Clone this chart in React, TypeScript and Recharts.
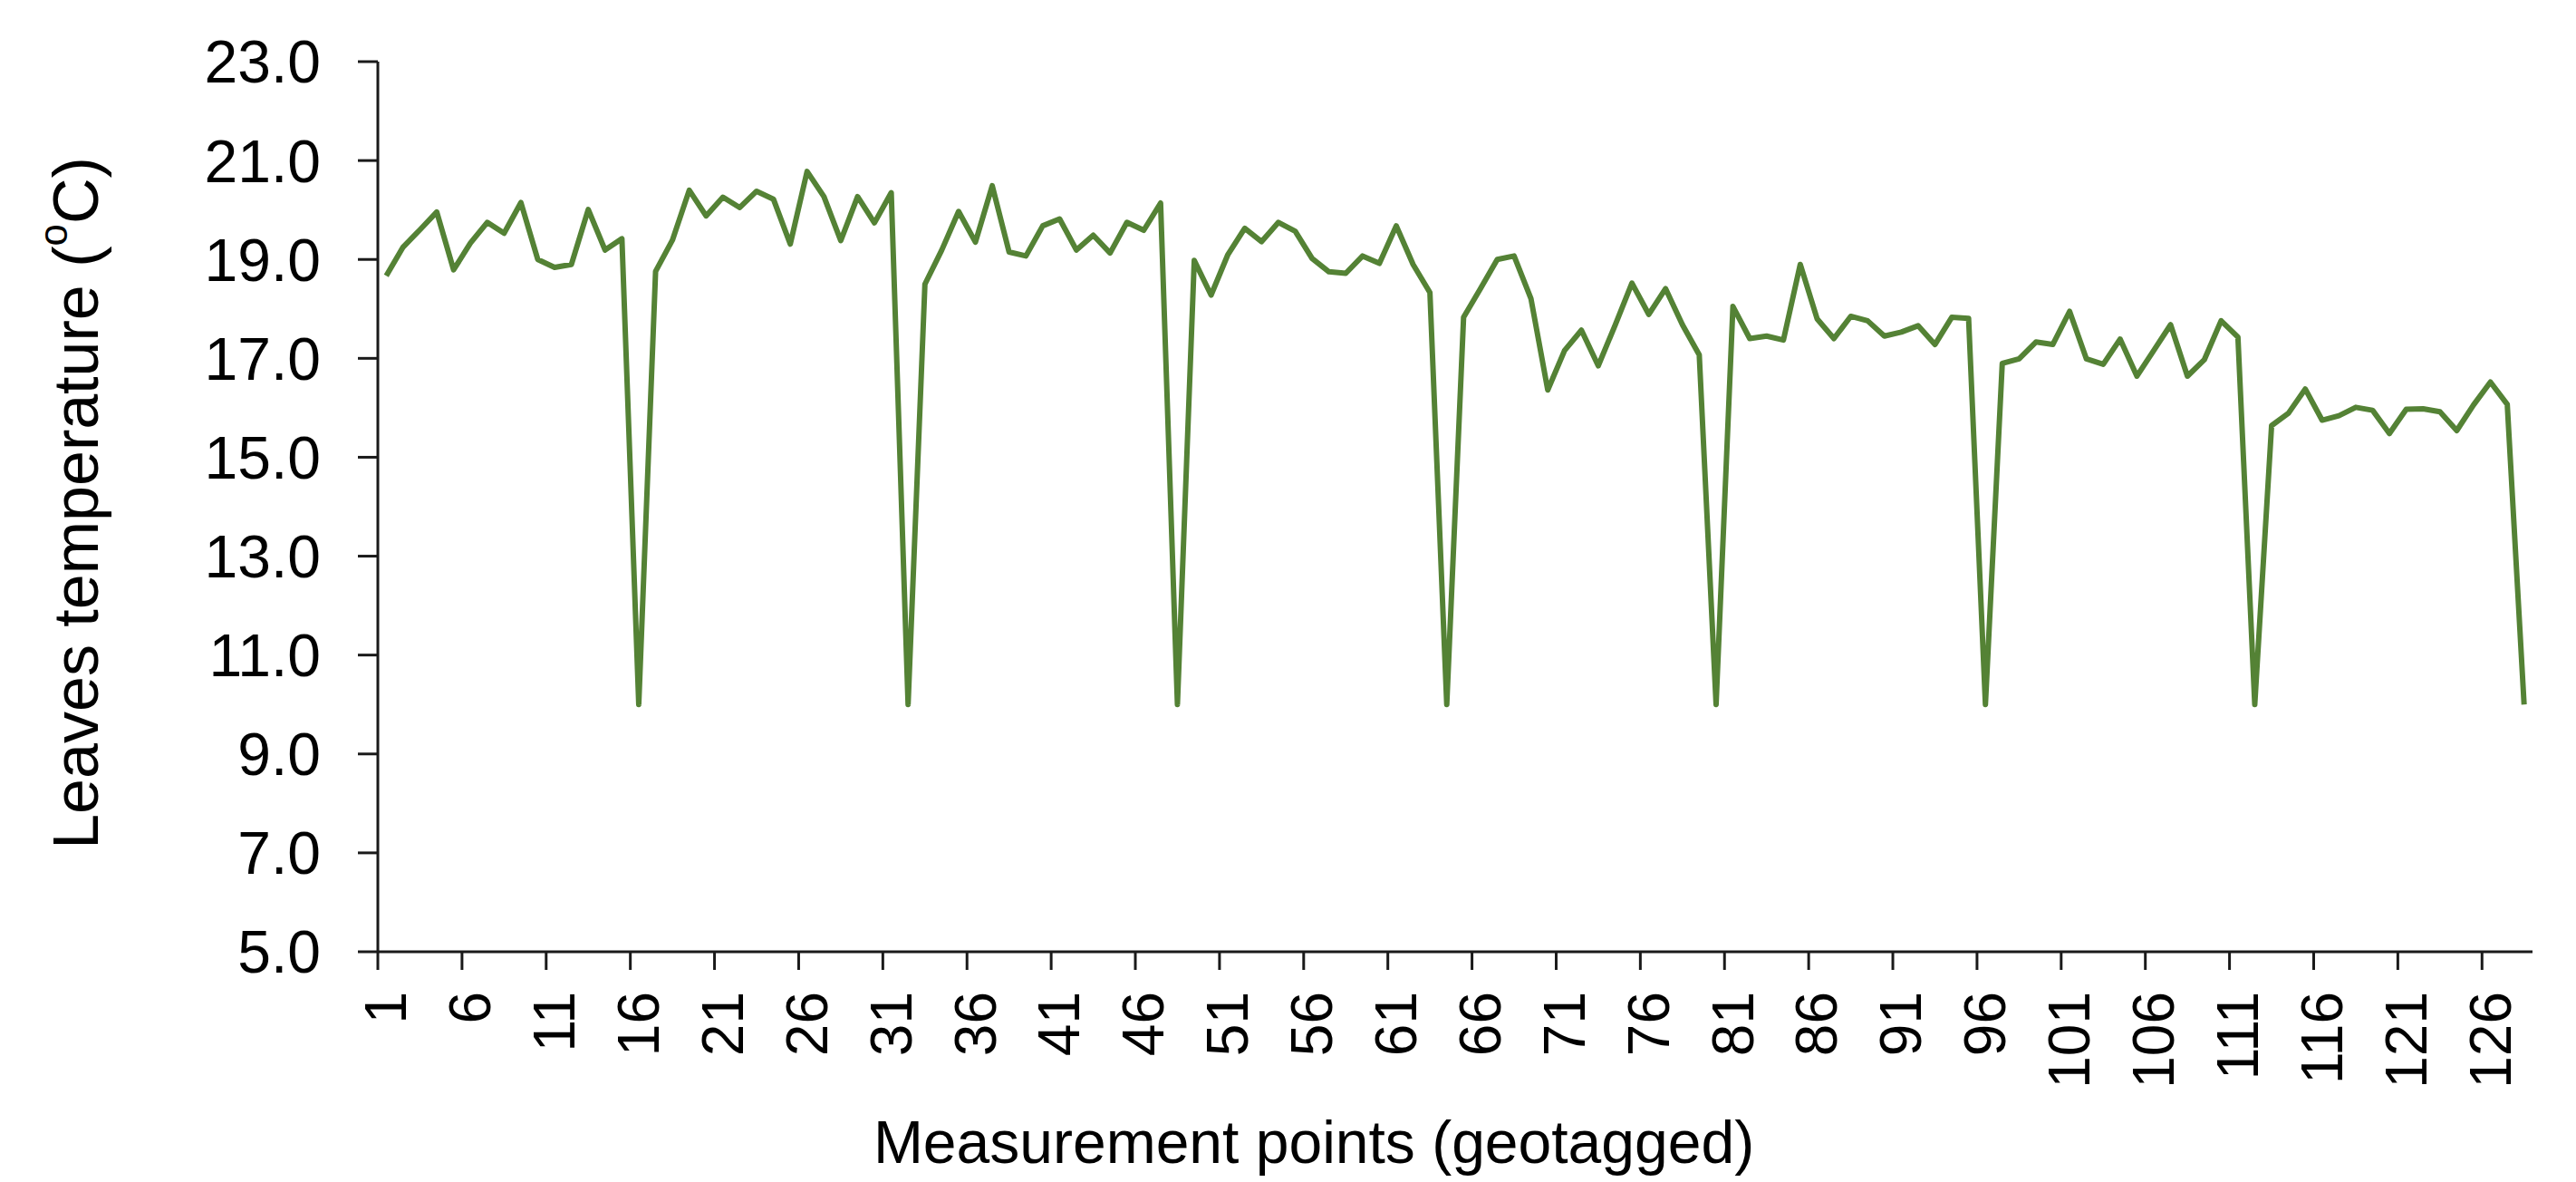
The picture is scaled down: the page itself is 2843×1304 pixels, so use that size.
import { LineChart, Line, XAxis, YAxis, Label } from 'recharts';

const WIDTH = 2843;
const HEIGHT = 1304;
const PLOT_LEFT = 417;
const PLOT_RIGHT = 2795;
const PLOT_TOP = 68;
const PLOT_BOTTOM = 1050;
const LINE_COLOR = '#548235';
const AXIS_COLOR = '#1a1a1a';
const FONT = '"Liberation Sans", Arial, Helvetica, sans-serif';

// leaves temperature per geotagged point (°C)
const temperatures = [
  18.67, 19.25, 19.6, 19.96, 18.79, 19.33, 19.75, 19.53, 20.15, 19.0,
  18.84, 18.9, 20.01, 19.19, 19.42, 10.0, 18.76, 19.39, 20.4, 19.88,
  20.26, 20.05, 20.38, 20.22, 19.31, 20.78, 20.27, 19.38, 20.27, 19.74,
  20.35, 10.0, 18.5, 19.19, 19.97, 19.35, 20.49, 19.15, 19.07, 19.68,
  19.82, 19.19, 19.49, 19.13, 19.75, 19.59, 20.14, 10.0, 18.98, 18.28,
  19.1, 19.63, 19.36, 19.75, 19.57, 19.02, 18.75, 18.72, 19.07, 18.92,
  19.68, 18.9, 18.33, 10.0, 17.83, 18.41, 19.0, 19.07, 18.21, 16.36,
  17.16, 17.57, 16.85, 17.67, 18.52, 17.89, 18.41, 17.68, 17.07, 10.0,
  18.05, 17.4, 17.45, 17.37, 18.9, 17.8, 17.4, 17.85, 17.76, 17.45,
  17.53, 17.66, 17.28, 17.83, 17.81, 10.0, 16.9, 16.99, 17.33, 17.28,
  17.95, 16.99, 16.88, 17.39, 16.64, 17.16, 17.68, 16.64, 16.97, 17.76,
  17.43, 10.0, 15.64, 15.89, 16.38, 15.75, 15.84, 16.01, 15.95, 15.48,
  15.97, 15.98, 15.92, 15.54, 16.06, 16.52, 16.07, 10.0,
];

const points = temperatures.map((_, i) => i + 1);
const xTicks = [1, 6, 11, 16, 21, 26, 31, 36, 41, 46, 51, 56, 61, 66, 71, 76, 81, 86, 91, 96, 101, 106, 111, 116, 121, 126];
const yTicks = [5, 7, 9, 11, 13, 15, 17, 19, 21, 23];

const data = points.map((p, i) => ({ point: p, temp: temperatures[i] }));

const catWidth = (PLOT_RIGHT - PLOT_LEFT) / points.length;

function PointTick(props: any) {
  const { x, y, payload } = props;
  const edge = x - catWidth / 2;
  return (
    <g>
      <line x1={edge} y1={y} x2={edge} y2={y + 20} stroke={AXIS_COLOR} strokeWidth={3} />
      <text
        x={x}
        y={y + 44}
        transform={`rotate(-90, ${x}, ${y + 44})`}
        textAnchor="end"
        dominantBaseline="central"
        fontSize={64}
        fontFamily={FONT}
        fill="#000"
      >
        {payload.value}
      </text>
    </g>
  );
}

export default function App() {
  return (
    <div style={{ width: WIDTH, height: HEIGHT, background: '#fff' }}>
      <style>{'body{margin:0}'}</style>
      <LineChart
        width={WIDTH}
        height={HEIGHT}
        data={data}
        margin={{ top: PLOT_TOP, right: WIDTH - PLOT_RIGHT, bottom: 0, left: 0 }}
      >
        <XAxis
          dataKey="point"
          type="number"
          domain={[0.5, points.length + 0.5]}
          ticks={xTicks}
          height={HEIGHT - PLOT_BOTTOM}
          tickSize={0}
          tickMargin={0}
          tickLine={false}
          axisLine={{ stroke: AXIS_COLOR, strokeWidth: 3 }}
          tick={<PointTick />}
          interval={0}
        >
          <Label
            content={() => (
              <text x={1450} y={1283} textAnchor="middle" fontSize={66} fontFamily={FONT} fill="#000">
                Measurement points (geotagged)
              </text>
            )}
          />
        </XAxis>
        <YAxis
          type="number"
          domain={[5, 23]}
          ticks={yTicks}
          width={PLOT_LEFT}
          tickSize={22}
          tickMargin={41}
          interval={0}
          tickFormatter={(v: number) => v.toFixed(1)}
          tick={{ fontSize: 66, fontFamily: FONT, fill: '#000' }}
          tickLine={{ stroke: AXIS_COLOR, strokeWidth: 3 }}
          axisLine={{ stroke: AXIS_COLOR, strokeWidth: 3 }}
        >
          <Label
            content={() => (
              <text
                x={84}
                y={555}
                transform="rotate(-90, 84, 555)"
                textAnchor="middle"
                dominantBaseline="central"
                fontSize={70}
                fontFamily={FONT}
                fill="#000"
              >
                Leaves temperature (
                <tspan fontSize={44} dy={-26}>o</tspan>
                <tspan dy={26}>C)</tspan>
              </text>
            )}
          />
        </YAxis>
        <Line
          type="linear"
          dataKey="temp"
          stroke={LINE_COLOR}
          strokeWidth={6}
          strokeLinejoin="round"
          dot={false}
          activeDot={false}
          isAnimationActive={false}
        />
      </LineChart>
    </div>
  );
}
